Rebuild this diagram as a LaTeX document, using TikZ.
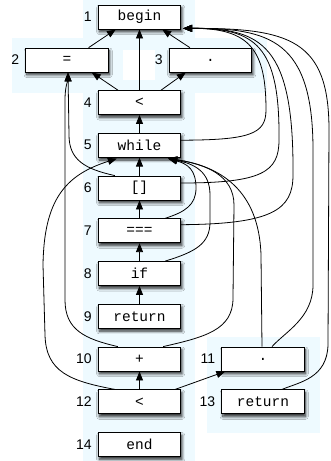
\documentclass[tikz,border=0pt]{standalone}
\usepackage{fontspec}
\setmainfont{Liberation Sans}
\newfontfamily\boxfont{Liberation Mono}
\usetikzlibrary{arrows.meta,calc,shadows.blur}
\definecolor{bgc}{RGB}{238,250,255}
\tikzset{
  box/.style={draw, line width=0.8pt, fill=white, minimum width=82.5pt,
    minimum height=24pt, inner sep=0pt,
    font=\boxfont\fontsize{14.5}{14.5}\selectfont,
    blur shadow={shadow xshift=1.2pt, shadow yshift=-2.8pt,
      shadow blur radius=2.8pt, shadow blur steps=8, shadow opacity=85}},
  num/.style={anchor=east, inner sep=0pt, font=\fontsize{14}{14}\selectfont},
  link/.style={line width=0.8pt, -{Triangle[length=9pt,width=7pt]}}
}
\begin{document}
\begin{tikzpicture}[x=1pt,y=-1pt]
\useasboundingbox (0,0) rectangle (330,461);

% shaded regions behind the boxes
\fill[bgc] (83,0) rectangle (195,461);
\fill[bgc] (12,38) rectangle (267,93);
\fill[white] (123,50) rectangle (155,80);
\fill[bgc] (207,337) rectangle (320,433);

% boxes
\node[box] (begin) at (139.5,17) {begin};
\node[box] (eq)    at (67,60)    {=};
\node[box] (dot3)  at (210.5,60) {.};
\node[box] (lt4)   at (139.5,102.5) {<};
\node[box] (nwhile) at (139.5,145.2) {while};
\node[box] (brk)   at (139.5,188) {[]};
\node[box] (eqq)   at (139.5,230.7) {===};
\node[box] (nif)   at (139.5,273.5) {if};
\node[box] (ret9)  at (139.5,316.3) {return};
\node[box] (plus)  at (139.5,359) {+};
\node[box] (dot11) at (263,359)  {.};
\node[box] (lt12)  at (139.5,401.8) {<};
\node[box] (ret13) at (263,401.8) {return};
\node[box] (endn)  at (139.5,444.5) {end};

% numbers
\foreach \n/\t in {begin/1, eq/2, dot3/3, lt4/4, nwhile/5, brk/6, eqq/7, nif/8,
                   ret9/9, plus/10, dot11/11, lt12/12, ret13/13, endn/14}
  \node[num] (lab\t) at ($(\n.west)+(-6,0)$) {\t};

% arrow tips shared by several edges
\coordinate (tipB) at ($(begin.south east)+(2,-1)$);
\coordinate (tipW) at ($(nwhile.south east)+(-13,1)$);
\coordinate (tipWL) at ($(nwhile.south west)+(19,1)$);
\coordinate (tipE) at ($(eq.south)+(1,0)$);

% straight edges
\draw[link] ($(eq.north east)+(-20,0)$) -- ($(begin.south west)+(18,0)$);
\draw[link] (lt4.north) -- (begin.south);
\draw[link] ($(dot3.north west)+(21,0)$) -- ($(begin.south east)+(-19,0)$);
\draw[link] ($(lt4.north west)+(20,0)$) -- ($(eq.south east)+(-17,0)$);
\draw[link] ($(lt4.north east)+(-20,0)$) -- ($(dot3.south west)+(17,0)$);
\draw[link] (nwhile.north) -- (lt4.south);
\draw[link] (brk.north) -- (nwhile.south);
\draw[link] (eqq.north) -- (brk.south);
\draw[link] (nif.north) -- (eqq.south);
\draw[link] (ret9.north) -- (nif.south);
\draw[link] (lt12.north) -- (plus.south);
\draw[link] ($(lt12.north east)+(-6,0)$) -- ($(dot11.south west)+(4,0)$);

% edges back to begin
\draw[link] ($(nwhile.east)+(0,-5)$) .. controls (250,140) and (266,134) .. (266,110)
  .. controls (266,50) and (250,28) .. (tipB);
\draw[link] ($(brk.east)+(0,-5)$) .. controls (262,183) and (279,172) .. (279,140)
  .. controls (280,45) and (255,28) .. (tipB);
\draw[link] ($(eqq.east)+(0,-6)$) .. controls (272,224) and (293,210) .. (293,175)
  .. controls (294,45) and (262,28) .. (tipB);
\draw[link] ($(dot11.north)+(9,0)$) .. controls (285,332) and (313,318) .. (313,285)
  -- (313,150) .. controls (313,40) and (270,28) .. (tipB);
\draw[link] ($(ret13.north)+(19,0)$) .. controls (300,382) and (327,378) .. (328,345)
  -- (329,130) .. controls (329,40) and (290,28) .. (tipB);

% edges back to while
\draw[link] ($(eqq.north east)+(-16,0)$) .. controls (185,212) and (196,205) .. (196,188)
  .. controls (196,170) and (188,164) .. (tipW);
\draw[link] ($(nif.north east)+(-16,0)$) .. controls (195,252) and (210,244) .. (210,222)
  -- (210,195) .. controls (210,172) and (195,164) .. (tipW);
\draw[link] ($(plus.north east)+(-18,0)$) .. controls (205,337) and (233,330) .. (233,298)
  -- (234,205) .. controls (234,175) and (205,164) .. (tipW);
\draw[link] ($(dot11.north)+(-1,0)$) -- (261,255) .. controls (259,190) and (220,166) .. (tipW);
\draw[link] ($(lt12.north west)+(17,0)$) .. controls (70,381) and (46,372) .. (45,335)
  -- (43,265) .. controls (44,200) and (65,175) .. (tipWL);

% edges back to =
\draw[link] ($(brk.north west)+(17,0)$) .. controls (85,169) and (69,160) .. (69,135) -- (tipE);
\draw[link] ($(plus.north west)+(20,0)$) .. controls (85,339) and (65,330) .. (65,300)
  -- (65,100) .. controls (65,86) and (68,80) .. (tipE);
\end{tikzpicture}
\end{document}
